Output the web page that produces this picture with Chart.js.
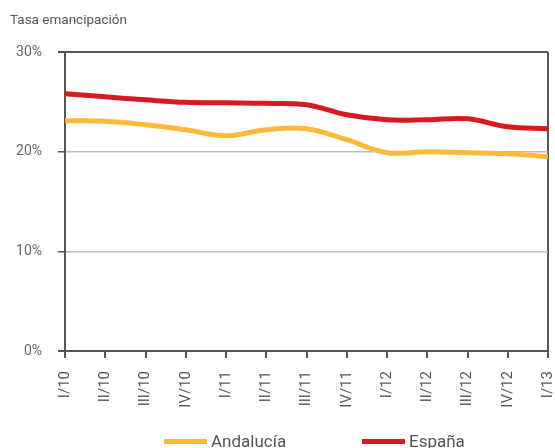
<!DOCTYPE html>
<html lang="es">
<head>
  <meta charset="UTF-8" />
  <title>Tasa emancipación</title>
  <script src="https://cdn.jsdelivr.net/npm/chart.js"></script>
  <style>
    html, body { margin: 0; padding: 0; background: #fff; overflow: hidden; }
    #wrap { position: relative; width: 555px; height: 448px; overflow: hidden; }
    #title { position: absolute; left: 10px; top: 11px; font: 13.5px Roboto, sans-serif; color: #555; }
    .leg { position: absolute; top: 431px; display: flex; align-items: center; font: 17px 'Liberation Sans Narrow', Roboto, sans-serif; color: #555; }
    .leg span.sw { display: inline-block; width: 43px; height: 5px; margin-right: 4px; }
  </style>
</head>
<body>
  <div id="wrap">
    <div id="title">Tasa emancipación</div>
    <canvas id="chart" width="555" height="448"></canvas>
    <div class="leg" style="left:164px"><span class="sw" style="background:#fdb93a"></span>Andalucía</div>
    <div class="leg" style="left:362px"><span class="sw" style="background:#d71a21"></span>España</div>
  </div>

  <script>
    // trimestres
    const labels = ['I/10', 'II/10', 'III/10', 'IV/10', 'I/11', 'II/11', 'III/11', 'IV/11', 'I/12', 'II/12', 'III/12', 'IV/12', 'I/13'];
    const andalucia = [23.1, 23.05, 22.7, 22.2, 21.6, 22.2, 22.3, 21.2, 19.9, 20.0, 19.9, 19.8, 19.5];
    const espana = [25.8, 25.5, 25.2, 24.95, 24.9, 24.85, 24.7, 23.7, 23.2, 23.2, 23.3, 22.5, 22.3];
    const yTicks = [0, 10, 20, 30];

    const axisColor = '#555';
    const gridColor = '#bdbdbd';

    new Chart(document.getElementById('chart'), {
      type: 'line',
      data: {
        labels: labels,
        datasets: [
          { label: 'Andalucía', data: andalucia, borderColor: '#fdb93a', backgroundColor: '#fdb93a', borderWidth: 5, pointRadius: 0, tension: 0.4 },
          { label: 'España', data: espana, borderColor: '#d71a21', backgroundColor: '#d71a21', borderWidth: 5, pointRadius: 0, tension: 0.4 }
        ]
      },
      options: {
        responsive: false,
        animation: false,
        layout: { padding: { top: 52, right: 7, left: 0, bottom: 17 } },
        plugins: {
          tooltip: { enabled: false },
          legend: { display: false }
        },
        scales: {
          x: {
            offset: false,
            border: { display: true, color: axisColor, width: 2 },
            grid: {
              drawOnChartArea: true,
              color: ctx => ctx.index === labels.length - 1 ? axisColor : 'transparent',
              lineWidth: 2,
              tickColor: axisColor,
              tickLength: 7
            },
            ticks: {
              minRotation: 90, maxRotation: 90, autoSkip: false, padding: 13,
              color: '#555',
              font: { family: "'Liberation Sans Narrow', Roboto, sans-serif", size: 15 }
            },
            afterFit: s => { s.height = 80; s.paddingRight = 0; s.paddingLeft = 0; }
          },
          y: {
            min: 0, max: 30,
            border: { display: true, color: axisColor, width: 2 },
            afterBuildTicks: s => { s.ticks = yTicks.map(v => ({ value: v })); },
            grid: {
              color: ctx => (ctx.tick && (ctx.tick.value === 0 || ctx.tick.value === 30)) ? axisColor : gridColor,
              lineWidth: ctx => (ctx.tick && (ctx.tick.value === 0 || ctx.tick.value === 30)) ? 2 : 1.5,
              tickColor: axisColor,
              tickLength: 7
            },
            ticks: {
              padding: 16,
              color: '#666',
              font: { family: 'Roboto, sans-serif', size: 14 },
              callback: v => v + '%'
            },
            afterFit: s => { s.width = 65; s.paddingTop = 0; s.paddingBottom = 0; }
          }
        }
      }
    });
  </script>
</body>
</html>
